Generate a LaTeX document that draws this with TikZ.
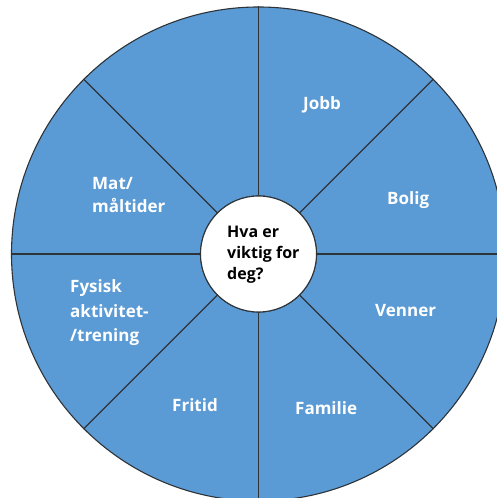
\documentclass[tikz,border=0pt]{standalone}
\usepackage{fontspec}
\setmainfont{Open Sans}
\definecolor{wheelblue}{HTML}{5B9BD5}
\definecolor{wheelline}{HTML}{2E3338}
\begin{document}
\begin{tikzpicture}[x=1pt,y=1pt,
  ring/.style={circle,inner sep=0pt,draw=wheelline,line width=1.1pt},
  spoke/.style={draw=wheelline,line width=1.1pt},
  lab/.style={anchor=base west,inner sep=0pt,text=white,font=\bfseries\fontsize{17}{20}\selectfont},
  qlab/.style={anchor=base west,inner sep=0pt,text=black,font=\bfseries\fontsize{16}{20}\selectfont}]
\useasboundingbox (0,0) rectangle (497,498);
\fill[white] (0,0) rectangle (497,498);
\node[ring,fill=wheelblue,minimum size=494pt] (outer) at (258.5,244) {};
\node[ring,fill=white,minimum size=116pt] (inner) at (258.5,244) {};
\foreach \a in {0,45,...,315}{
  \draw[spoke] (inner.\a) -- (outer.\a);
}
\node[ring,fill=white,minimum size=116pt] (innerb) at (258.5,244) {};
% labels
\node[lab] (jobb) at (303,388) {Jobb};
\node[lab] (bolig) at (387,293) {Bolig};
\node[lab] (venner) at (375,181) {Venner};
\node[lab] (familie) at (295,83) {Familie};
\node[lab] (fritid) at (172,86) {Fritid};
\node[lab] (fys1) at (70,205) {Fysisk};
\node[lab] (fys2) at (70,180) {aktivitet-};
\node[lab] (fys3) at (70,156) {/trening};
\node[lab] (mat1) at (92,308) {Mat/};
\node[lab] (mat2) at (92,285) {måltider};
\node[qlab] (q1) at (227,260) {Hva er};
\node[qlab] (q2) at (227,239) {viktig for};
\node[qlab] (q3) at (227,218) {deg?};
\end{tikzpicture}
\end{document}
